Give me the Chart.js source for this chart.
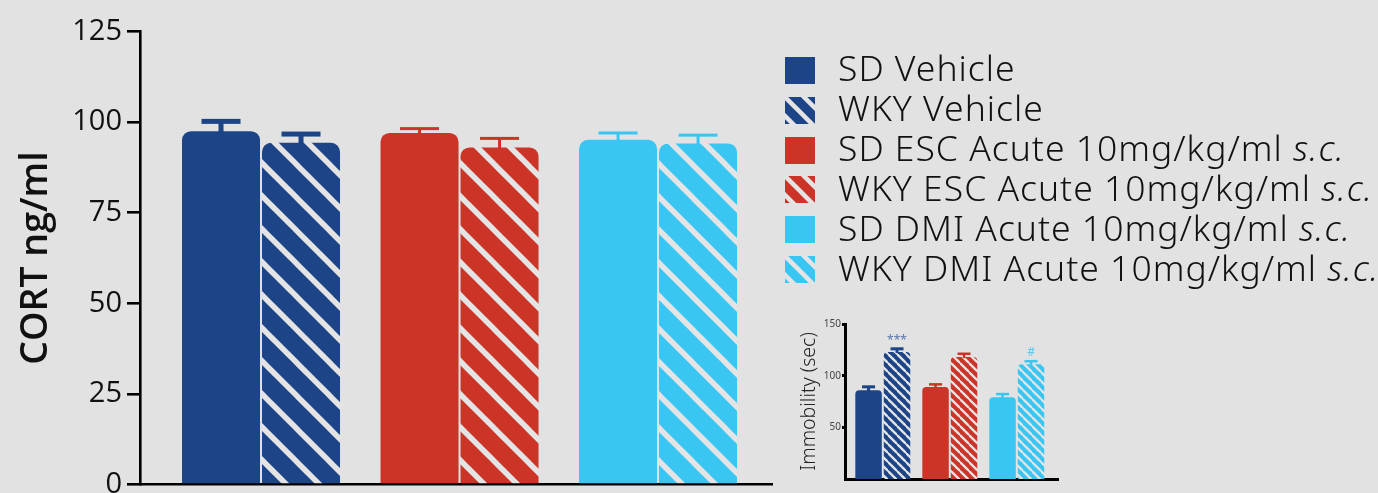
<!DOCTYPE html>
<html>
<head>
<meta charset="utf-8">
<script src="https://cdn.jsdelivr.net/npm/chart.js@4.4.1/dist/chart.umd.min.js"></script>
<style>
  html, body { margin:0; padding:0; background:#E2E2E2; width:1378px; height:493px; overflow:hidden; }
  #main { position:absolute; left:0; top:0; }
  #inset { position:absolute; left:780px; top:300px; }
  .lg-text { position:absolute; left:838px; font-family:"Noto Sans", sans-serif; font-weight:300; letter-spacing:1px; color:#111; white-space:nowrap; }
  .lg-sw { position:absolute; left:785px; width:30px; height:27px; }
</style>
</head>
<body>
<canvas id="main" width="1378" height="493"></canvas>
<canvas id="inset" width="330" height="193"></canvas>
<div id="legend"></div>
<script>
// ---------- data ----------
const groups = ['Vehicle', 'ESC', 'DMI'];
const seriesLabels = [
  'SD Vehicle',
  'WKY Vehicle',
  'SD ESC Acute 10mg/kg/ml',
  'WKY ESC Acute 10mg/kg/ml',
  'SD DMI Acute 10mg/kg/ml',
  'WKY DMI Acute 10mg/kg/ml'
];
const seriesSuffix = ['', '', 's.c.', 's.c.', 's.c.', 's.c.'];
const seriesGroup = [0, 0, 1, 1, 2, 2];
const seriesHatched = [false, true, false, true, false, true];
const cortMean = [97.5, 94.3, 97.0, 93.0, 95.1, 94.1];
const cortSem  = [2.7, 2.4, 1.2, 2.5, 1.9, 2.3];
const cortTicks = [0, 25, 50, 75, 100, 125];
const immobMean = [86, 123, 89, 118, 79, 111];
const immobSem  = [3.2, 3.0, 2.6, 3.2, 3.2, 3.0];
const immobTicks = [50, 100, 150];
const immobMarks = ['', '***', '', '', '', '#'];

// ---------- styles ----------
const BLUE = '#1C4487', RED = '#CC3428', CYAN = '#3AC6F2', STRIPE = '#E4E4E4';
const seriesColor = [BLUE, BLUE, RED, RED, CYAN, CYAN];
const markColor = ['', '#5876B0', '', '', '', '#5CC8EE'];

function stripes(color, period, width) {
  const c = document.createElement('canvas');
  c.width = period; c.height = period;
  const g = c.getContext('2d');
  g.fillStyle = color; g.fillRect(0, 0, period, period);
  g.strokeStyle = STRIPE; g.lineWidth = width;
  for (let k = -1; k <= 1; k++) {
    g.beginPath();
    g.moveTo(-period, -period + k * period);
    g.lineTo(2 * period, 2 * period + k * period);
    g.stroke();
  }
  return g.createPattern(c, 'repeat');
}

function makeDatasets(means, sems, period, width, catPct, barPct, radius) {
  return means.map((m, i) => ({
    label: seriesLabels[i],
    data: groups.map((g, gi) => ({ x: gi, y: gi === seriesGroup[i] ? m : null })),
    sem: sems[i],
    backgroundColor: seriesHatched[i] ? stripes(seriesColor[i], period, width) : seriesColor[i],
    borderWidth: 0,
    borderRadius: radius,
    borderSkipped: 'bottom',
    categoryPercentage: catPct,
    barPercentage: barPct,
    skipNull: true
  }));
}

function errorBars(capW, thick) {
  return {
    id: 'errorBars',
    afterDatasetsDraw(chart) {
      const ctx = chart.ctx, ys = chart.scales.y;
      chart.data.datasets.forEach((ds, i) => {
        const meta = chart.getDatasetMeta(i);
        meta.data.forEach((el, j) => {
          const v = ds.data[j].y;
          if (v == null) return;
          const top = ys.getPixelForValue(v + ds.sem);
          const lw = thick[i];
          ctx.save();
          ctx.fillStyle = seriesColor[i];
          ctx.fillRect(el.x - lw / 2, top, lw, el.y - top + 1);
          ctx.fillRect(el.x - capW / 2, top - lw / 2, capW, lw);
          ctx.restore();
        });
      });
    }
  };
}

const zeroPad = s => { s.paddingTop = 0; s.paddingBottom = 0; s.paddingLeft = 0; s.paddingRight = 0; };
const groupTicks = s => { s.ticks = groups.map((g, i) => ({ value: i })); };

// ---------- main chart ----------
new Chart(document.getElementById('main'), {
  type: 'bar',
  data: { datasets: makeDatasets(cortMean, cortSem, 33, 5.5, 0.806, 0.975, 9) },
  options: {
    responsive: false, animation: false,
    layout: { padding: { left: 0, top: 31.5, right: 606, bottom: 8.5 } },
    plugins: { legend: { display: false }, tooltip: { enabled: false } },
    scales: {
      x: {
        type: 'linear', min: -0.6096, max: 2.574, offset: false,
        afterBuildTicks: groupTicks,
        ticks: { display: false }, grid: { display: false, offset: false },
        border: { display: true, color: '#000', width: 2.6 },
        afterFit: s => { s.height = 0; zeroPad(s); }
      },
      y: {
        min: 0, max: 125,
        afterBuildTicks: s => { s.ticks = cortTicks.map(v => ({ value: v })); },
        ticks: { color: '#111', font: { family: 'Open Sans', size: 29 }, padding: 5 },
        grid: { drawOnChartArea: false, drawTicks: true, tickLength: 13, color: '#000', lineWidth: 2.6 },
        border: { display: true, color: '#000', width: 2.6 },
        title: { display: true, text: 'CORT ng/ml', color: '#111',
                 font: { family: 'Open Sans', size: 37.5, weight: '600' }, padding: { top: 14, bottom: 0 } },
        afterFit: s => { s.width = 140; zeroPad(s); }
      }
    }
  },
  plugins: [errorBars(39, [5, 5, 3, 3, 3, 3])]
});

// ---------- inset chart ----------
const markPlugin = {
  id: 'marks',
  afterDatasetsDraw(chart) {
    const ctx = chart.ctx, ys = chart.scales.y;
    chart.data.datasets.forEach((ds, i) => {
      if (!immobMarks[i]) return;
      const meta = chart.getDatasetMeta(i);
      meta.data.forEach((el, j) => {
        const v = ds.data[j].y;
        if (v == null) return;
        ctx.save();
        ctx.fillStyle = markColor[i];
        ctx.font = '12px "Noto Sans"';
        ctx.textAlign = 'center';
        ctx.textBaseline = 'alphabetic';
        ctx.fillText(immobMarks[i], el.x, ys.getPixelForValue(v + ds.sem) - 5);
        ctx.restore();
      });
    });
  }
};

new Chart(document.getElementById('inset'), {
  type: 'bar',
  data: { datasets: makeDatasets(immobMean, immobSem, 9.3, 2.3, 0.85, 0.93, 4) },
  options: {
    responsive: false, animation: false,
    layout: { padding: { left: 0, top: 24, right: 52, bottom: 14 } },
    plugins: { legend: { display: false }, tooltip: { enabled: false } },
    scales: {
      x: {
        type: 'linear', min: -0.564, max: 2.615, offset: false,
        afterBuildTicks: groupTicks,
        ticks: { display: false }, grid: { display: false, offset: false },
        border: { display: true, color: '#000', width: 3 },
        afterFit: s => { s.height = 0; zeroPad(s); }
      },
      y: {
        min: 0, max: 150,
        afterBuildTicks: s => { s.ticks = immobTicks.map(v => ({ value: v })); },
        ticks: { color: '#444', font: { family: 'Noto Sans', size: 10 }, padding: 1 },
        grid: { drawOnChartArea: false, drawTicks: true, tickLength: 3, color: '#000', lineWidth: 3 },
        border: { display: true, color: '#000', width: 3 },
        title: { display: true, text: 'Immobility (sec)', color: '#222',
                 font: { family: 'Noto Sans', size: 19.5, weight: '300' }, padding: { top: 18, bottom: 0 } },
        afterFit: s => { s.width = 65; zeroPad(s); }
      }
    }
  },
  plugins: [errorBars(13, [3, 3, 2.5, 2.5, 2.5, 2.5]), markPlugin]
});

// ---------- legend ----------
const legend = document.getElementById('legend');
const FS = 35.5, ROW = 39.9, BASE0 = 81.7, SW0 = 56.7;
seriesLabels.forEach((lab, i) => {
  const sw = document.createElement('canvas');
  sw.className = 'lg-sw'; sw.width = 30; sw.height = 27;
  sw.style.top = (SW0 + ROW * i) + 'px';
  const g = sw.getContext('2d');
  g.fillStyle = seriesHatched[i] ? stripes(seriesColor[i], 19, 4.5) : seriesColor[i];
  g.fillRect(0, 0, 30, 27);
  legend.appendChild(sw);
  const t = document.createElement('div');
  t.className = 'lg-text';
  t.style.fontSize = FS + 'px';
  t.style.lineHeight = FS + 'px';
  t.style.top = (BASE0 + ROW * i - 0.888 * FS) + 'px';
  t.textContent = lab + (seriesSuffix[i] ? ' ' : '');
  if (seriesSuffix[i]) {
    const it = document.createElement('i');
    it.textContent = seriesSuffix[i];
    t.appendChild(it);
  }
  legend.appendChild(t);
});
</script>
</body>
</html>
